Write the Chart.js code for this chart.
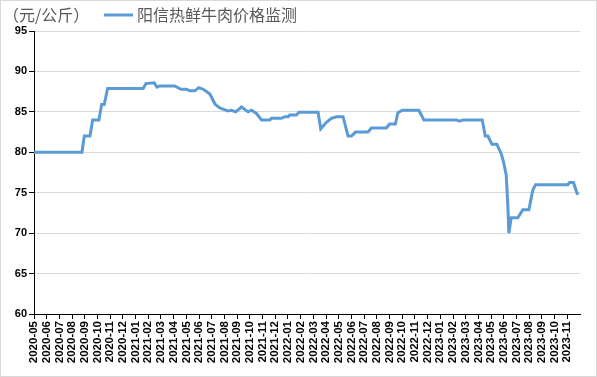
<!DOCTYPE html>
<html><head><meta charset="utf-8">
<script src="https://cdn.jsdelivr.net/npm/chart.js@4"></script>
<style>
html,body{margin:0;padding:0;background:#fff}
#wrap{width:595px;height:375px;border:1px solid #d9d9d9;position:relative;background:#fff}
canvas{display:block}
</style></head><body>
<div id="wrap"><canvas id="c" width="595" height="375"></canvas></div>
<script>
const unitTitle = '（元/公斤）';
const seriesName = '阳信热鲜牛肉价格监测';
const monthLabels = [
  '2020-05','2020-06','2020-07','2020-08','2020-09','2020-10','2020-11','2020-12',
  '2021-01','2021-02','2021-03','2021-04','2021-05','2021-06','2021-07','2021-08','2021-09','2021-10','2021-11','2021-12',
  '2022-01','2022-02','2022-03','2022-04','2022-05','2022-06','2022-07','2022-08','2022-09','2022-10','2022-11','2022-12',
  '2023-01','2023-02','2023-03','2023-04','2023-05','2023-06','2023-07','2023-08','2023-09','2023-10','2023-11'
];
// position of each observation, in months after 2020-05
const sampleMonths = [
  0, 3.78, 3.96, 4.41, 4.62, 5.11, 5.33, 5.53, 5.80, 8.60,
  8.81, 9.47, 9.68, 9.91, 11.09, 11.57, 12.01, 12.27, 12.67, 12.98,
  13.32, 13.69, 13.85, 14.24, 14.37, 14.63, 15.29, 15.55, 15.89, 16.34,
  16.86, 17.13, 17.52, 17.92, 18.57, 18.70, 19.49, 19.75, 20.01, 20.14,
  20.67, 20.85, 22.37, 22.58, 23.03, 23.42, 23.82, 24.34, 24.73, 25.00,
  25.33, 26.30, 26.57, 27.75, 28.01, 28.46, 28.66, 29.01, 30.31, 30.71,
  33.26, 33.52, 33.78, 35.30, 35.54, 35.75, 36.06, 36.45, 36.80, 36.98,
  37.19, 37.32, 37.40, 37.58, 38.10, 38.50, 38.97, 39.02, 39.28, 39.50,
  42.04, 42.17, 42.49, 42.77, 42.90
];
const prices = [
  80, 80, 82, 82, 84, 84, 85.9, 85.9, 87.9, 87.9,
  88.5, 88.6, 88.05, 88.2, 88.2, 87.8, 87.8, 87.6, 87.6, 88.0,
  87.8, 87.4, 87.2, 86.0, 85.8, 85.5, 85.1, 85.2, 85.0, 85.6,
  85.0, 85.2, 84.8, 84.0, 84.0, 84.2, 84.2, 84.4, 84.4, 84.6,
  84.6, 84.95, 84.95, 82.9, 83.7, 84.2, 84.4, 84.4, 82.0, 82.0,
  82.5, 82.5, 83.0, 83.0, 83.5, 83.5, 84.9, 85.2, 85.2, 84.0,
  84.0, 83.85, 84.0, 84.0, 82.0, 82.0, 81.0, 81.0, 79.8, 78.8,
  77.2, 73.25, 70.0, 71.9, 71.9, 72.9, 72.9, 73.25, 75.3, 76.0,
  76.0, 76.25, 76.25, 74.9, 74.9
];
const yTicks = [60, 65, 70, 75, 80, 85, 90, 95];

const points = sampleMonths.map((m, i) => ({x: m, y: prices[i]}));

const headerPlugin = {
  id: 'header',
  afterDraw(chart) {
    const ctx = chart.ctx;
    ctx.save();
    ctx.font = '16px "Noto Sans CJK SC"';
    ctx.fillStyle = '#595959';
    ctx.textBaseline = 'middle';
    ctx.fillText(unitTitle, 2, 14);
    ctx.strokeStyle = '#5B9BD5';
    ctx.lineWidth = 3;
    ctx.beginPath();
    ctx.moveTo(103, 14);
    ctx.lineTo(132, 14);
    ctx.stroke();
    ctx.fillText(seriesName, 136, 14);
    ctx.restore();
  }
};

new Chart(document.getElementById('c'), {
  type: 'line',
  data: {
    datasets: [{
      label: seriesName,
      data: points,
      borderColor: '#5B9BD5',
      backgroundColor: '#5B9BD5',
      borderWidth: 3,
      pointRadius: 0,
      tension: 0,
      fill: false
    }]
  },
  options: {
    responsive: false,
    animation: false,
    devicePixelRatio: 1,
    layout: {padding: {top: 30, right: 16, left: 0, bottom: 0}},
    plugins: {legend: {display: false}, tooltip: {enabled: false}},
    scales: {
      x: {
        type: 'linear',
        min: 0,
        max: 43,
        afterBuildTicks(scale) {
          scale.ticks = monthLabels.map((_, i) => ({value: i}));
        },
        afterFit(scale) { scale.height = 62; },
        grid: {drawOnChartArea: false, drawTicks: true, tickLength: 5, tickColor: '#000'},
        border: {color: '#000', width: 1},
        ticks: {
          autoSkip: false,
          minRotation: 90,
          maxRotation: 90,
          padding: 2,
          color: '#000',
          font: {family: 'Liberation Sans', size: 11.5, weight: 'bold'},
          callback: (v) => monthLabels[v] ?? ''
        }
      },
      y: {
        min: 60,
        max: 95,
        afterBuildTicks(scale) {
          scale.ticks = yTicks.map(v => ({value: v}));
        },
        afterFit(scale) { scale.width = 33; },
        grid: {color: '#d9d9d9', tickColor: '#000', tickLength: 5, drawTicks: true},
        border: {color: '#000', width: 1},
        ticks: {
          padding: 2,
          color: '#000',
          font: {family: 'Liberation Sans', size: 11, weight: 'bold'},
          callback: (v) => String(v)
        }
      }
    }
  },
  plugins: [headerPlugin]
});
</script>
</body></html>
